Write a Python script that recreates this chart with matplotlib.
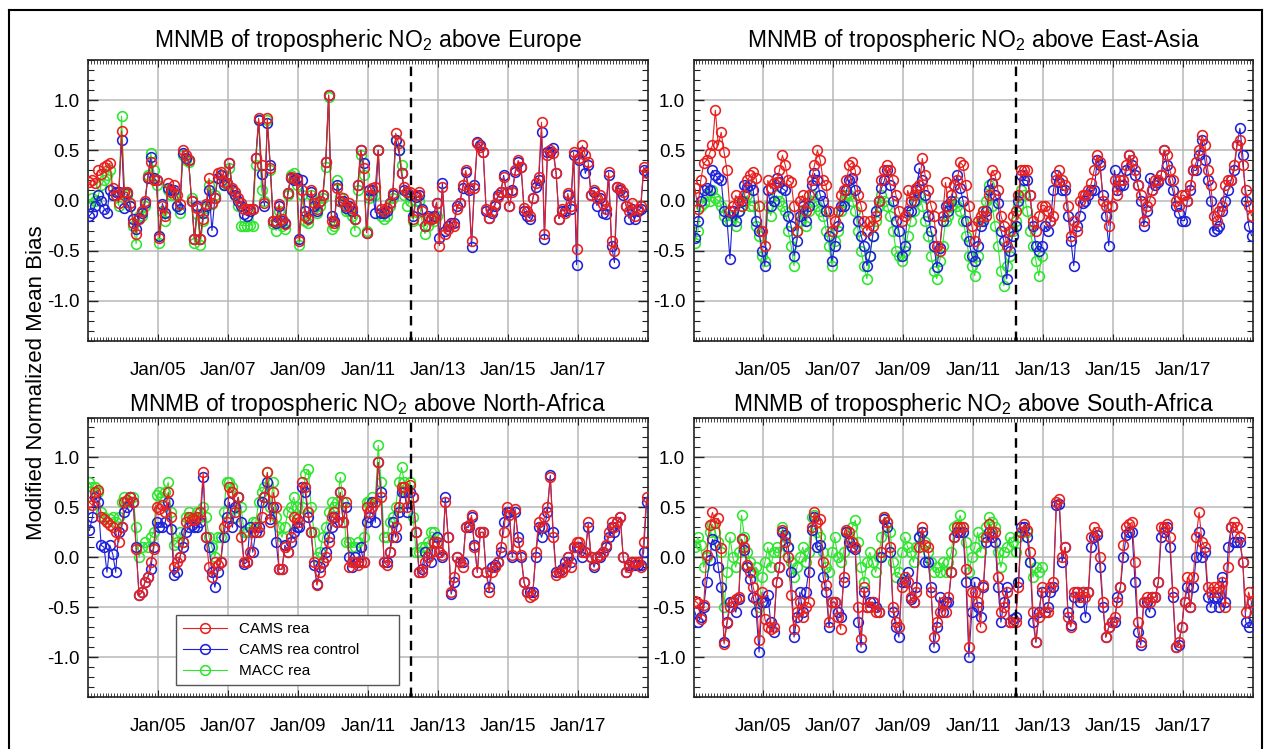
import numpy as np
import matplotlib
matplotlib.use("Agg")
import matplotlib.pyplot as plt
from matplotlib.ticker import MultipleLocator, FixedLocator
from matplotlib.lines import Line2D

plt.rcParams["font.family"] = ["Liberation Sans", "DejaVu Sans"]
plt.rcParams["mathtext.fontset"] = "custom"
plt.rcParams["mathtext.rm"] = "Liberation Sans"
plt.rcParams["mathtext.default"] = "regular"
plt.rcParams["axes.unicode_minus"] = False

# monthly MNMB values, Jan 2003 .. Dec 2018 (MACC rea stops Dec 2012)
START_YEAR = 2003
SWITCH_DATE = 2012.22
TICK_YEARS = [2005, 2007, 2009, 2011, 2013, 2015, 2017]
TICK_LABELS = ["Jan/05", "Jan/07", "Jan/09", "Jan/11", "Jan/13", "Jan/15", "Jan/17"]

EUR_CAMS = [
    0.18, 0.20, 0.17, 0.30, 0.26, 0.33, 0.35, 0.37, 0.12, 0.05, -0.02, 0.69,
    0.08, 0.08, -0.02, -0.22, -0.33, -0.18, -0.10, 0.00, 0.23, 0.38, 0.20, 0.20,
    -0.37, -0.05, -0.15, 0.17, 0.08, 0.15, 0.05, -0.03, 0.50, 0.45, 0.40, 0.00,
    -0.38, -0.07, -0.38, -0.18, -0.03, 0.22, -0.02, 0.02, 0.27, 0.28, 0.18, 0.17,
    0.37, 0.12, 0.08, 0.02, -0.02, -0.08, -0.08, -0.08, -0.08, 0.42, 0.82, 0.35,
    -0.02, 0.82, 0.32, -0.20, -0.20, -0.03, -0.18, -0.23, 0.07, 0.23, 0.22, 0.20,
    -0.40, 0.10, -0.15, -0.18, 0.10, -0.02, -0.08, 0.00, 0.05, 0.38, 1.05, -0.20,
    -0.22, 0.12, 0.00, 0.02, -0.05, -0.02, -0.07, -0.18, 0.15, 0.50, 0.32, -0.32,
    0.05, 0.12, 0.13, 0.50, -0.08, -0.10, -0.07, -0.02, 0.07, 0.67, 0.57, 0.27,
    0.13, 0.08, 0.08, -0.18, 0.05, 0.08, -0.10, -0.25, -0.17, -0.18, -0.17, -0.02,
    -0.45, 0.13, -0.33, -0.28, -0.23, -0.25, -0.08, -0.02, 0.15, 0.30, 0.12, -0.40,
    0.12, 0.57, 0.53, 0.48, -0.08, -0.17, -0.10, -0.03, 0.03, 0.08, 0.23, 0.08,
    -0.05, 0.08, 0.30, 0.40, 0.33, -0.07, -0.10, -0.15, 0.02, 0.17, 0.23, 0.78,
    -0.33, 0.45, 0.50, 0.47, 0.27, -0.18, -0.08, -0.12, 0.07, -0.05, 0.48, -0.48,
    0.42, 0.55, 0.45, 0.38, 0.05, 0.10, 0.02, 0.05, -0.03, -0.08, 0.28, -0.40,
    -0.50, 0.13, 0.12, 0.08, -0.05, -0.10, -0.02, -0.15, -0.08, -0.05, 0.33, 0.27,
]
EUR_CTRL = [
    -0.15, -0.12, -0.05, 0.05, 0.00, -0.08, -0.12, 0.10, 0.05, 0.08, 0.08, 0.60,
    -0.07, 0.07, -0.05, -0.18, -0.28, -0.17, -0.12, -0.02, 0.22, 0.43, 0.22, 0.20,
    -0.35, -0.03, -0.12, 0.12, 0.10, 0.10, -0.05, -0.08, 0.47, 0.42, 0.40, 0.00,
    -0.38, -0.05, -0.38, -0.12, -0.05, 0.10, -0.30, 0.02, 0.22, 0.25, 0.15, 0.17,
    0.37, 0.10, 0.05, 0.00, -0.05, -0.13, -0.15, -0.10, -0.08, 0.42, 0.80, 0.26,
    -0.05, 0.77, 0.35, -0.20, -0.22, -0.05, -0.20, -0.22, 0.07, 0.22, 0.20, 0.22,
    -0.38, 0.20, -0.10, -0.17, 0.08, -0.05, -0.10, 0.00, 0.05, 0.38, 1.05, -0.15,
    -0.20, 0.15, 0.00, 0.00, -0.07, -0.05, -0.10, -0.18, 0.15, 0.50, 0.37, -0.32,
    0.10, 0.10, -0.12, 0.50, -0.12, -0.12, -0.10, -0.02, 0.05, 0.60, 0.50, 0.27,
    0.10, 0.08, 0.05, -0.15, 0.03, 0.05, -0.08, -0.25, -0.15, -0.18, -0.15, -0.02,
    -0.37, 0.17, -0.30, -0.25, -0.22, -0.22, -0.05, -0.02, 0.12, 0.28, 0.10, -0.46,
    0.15, 0.58, 0.55, 0.48, -0.10, -0.17, -0.12, -0.05, 0.05, 0.08, 0.25, 0.08,
    -0.05, 0.10, 0.28, 0.38, 0.33, -0.10, -0.15, -0.18, 0.02, 0.13, 0.20, 0.68,
    -0.38, 0.48, 0.48, 0.52, 0.27, -0.18, -0.10, -0.10, 0.05, -0.08, 0.45, -0.64,
    0.40, 0.48, 0.27, 0.35, 0.05, 0.08, -0.05, 0.02, -0.12, -0.13, 0.25, -0.45,
    -0.62, 0.13, 0.10, 0.05, -0.05, -0.18, -0.08, -0.18, -0.10, -0.08, 0.30, 0.28,
]
EUR_MACC = [
    -0.03, 0.02, 0.00, 0.05, 0.15, 0.20, 0.25, 0.30, 0.05, 0.05, -0.05, 0.84,
    0.07, 0.05, -0.05, -0.25, -0.43, -0.15, -0.15, -0.05, 0.25, 0.47, 0.30, 0.15,
    -0.42, -0.10, -0.20, 0.10, 0.05, 0.05, -0.05, -0.12, 0.45, 0.40, 0.38, 0.02,
    -0.42, -0.13, -0.44, -0.20, -0.07, 0.15, -0.03, 0.05, 0.22, 0.25, 0.15, 0.15,
    0.32, 0.10, 0.05, -0.05, -0.25, -0.25, -0.25, -0.24, -0.25, 0.35, 0.80, 0.10,
    0.00, 0.80, 0.30, -0.23, -0.30, -0.10, -0.25, -0.28, 0.05, 0.25, 0.27, 0.15,
    -0.44, 0.05, -0.20, -0.22, 0.05, -0.07, -0.12, -0.05, 0.02, 0.33, 1.03, -0.28,
    -0.25, 0.20, 0.03, -0.02, -0.10, -0.10, -0.15, -0.30, 0.10, 0.45, 0.25, -0.30,
    0.02, 0.05, 0.05, 0.50, -0.15, -0.18, -0.15, -0.05, 0.02, 0.60, 0.50, 0.35,
    0.05, -0.05, 0.00, -0.20, 0.00, 0.00, -0.20, -0.33, -0.25, -0.18, -0.20, -0.15,
]

EAS_CAMS = [
    0.12, -0.08, 0.20, 0.37, 0.40, 0.47, 0.55, 0.90, 0.55, 0.68, 0.48, 0.30,
    -0.10, -0.05, 0.05, 0.00, -0.05, 0.05, 0.20, 0.25, 0.28, 0.22, -0.05, -0.30,
    -0.45, 0.20, 0.12, 0.17, 0.18, 0.30, 0.45, 0.35, 0.20, 0.18, -0.05, -0.30,
    0.00, 0.05, -0.10, 0.05, 0.20, 0.35, 0.50, 0.40, 0.20, 0.15, -0.10, -0.30,
    -0.20, -0.10, 0.05, 0.10, 0.20, 0.35, 0.38, 0.30, 0.05, -0.05, -0.20, -0.30,
    -0.20, -0.25, -0.15, 0.00, 0.20, 0.30, 0.35, 0.30, 0.20, 0.05, -0.10, -0.20,
    -0.15, 0.10, 0.00, 0.05, 0.12, 0.15, 0.42, 0.25, 0.10, -0.05, -0.15, -0.45,
    -0.50, -0.15, 0.18, -0.05, 0.05, 0.15, 0.20, 0.38, 0.35, 0.15, -0.05, -0.25,
    -0.40, -0.20, -0.15, -0.10, -0.15, 0.05, 0.30, 0.25, 0.10, -0.15, -0.25, -0.45,
    -0.30, -0.15, -0.10, 0.05, 0.30, 0.30, 0.30, 0.05, -0.20, -0.30, -0.15, -0.05,
    -0.05, -0.10, -0.20, -0.15, 0.20, 0.30, 0.20, 0.15, -0.05, -0.35, -0.20, -0.30,
    0.00, 0.05, 0.05, 0.10, 0.17, 0.30, 0.45, 0.38, 0.00, -0.05, -0.25, -0.05,
    0.20, 0.05, 0.20, 0.20, 0.35, 0.45, 0.40, 0.30, 0.15, 0.05, -0.20, -0.05,
    0.00, 0.10, 0.20, 0.20, 0.25, 0.50, 0.45, 0.30, 0.20, 0.00, -0.05, 0.05,
    0.05, 0.00, 0.15, 0.30, 0.38, 0.50, 0.65, 0.55, 0.30, 0.15, -0.15, -0.20,
    -0.10, -0.05, 0.15, 0.20, 0.20, 0.35, 0.55, 0.60, 0.35, 0.10, -0.05, -0.15,
]
EAS_CTRL = [
    -0.37, -0.20, 0.00, 0.10, 0.12, 0.10, 0.30, 0.25, 0.22, 0.20, -0.10, -0.20,
    -0.58, -0.10, -0.20, -0.10, 0.00, 0.15, 0.13, 0.15, 0.10, -0.20, -0.30, -0.50,
    -0.65, 0.10, -0.05, 0.00, 0.22, 0.18, 0.12, 0.10, -0.15, -0.25, -0.55, -0.40,
    -0.15, -0.05, -0.20, -0.05, 0.15, 0.27, 0.20, 0.05, 0.00, -0.10, -0.35, -0.60,
    -0.45, -0.25, -0.05, -0.05, 0.10, 0.20, 0.22, 0.10, -0.20, -0.35, -0.45, -0.65,
    -0.55, -0.35, -0.10, 0.00, 0.12, 0.20, 0.30, 0.15, 0.00, -0.20, -0.30, -0.55,
    -0.45, -0.10, -0.10, 0.00, 0.10, 0.32, 0.20, 0.05, -0.15, -0.30, -0.45, -0.66,
    -0.47, -0.20, -0.05, -0.10, 0.00, 0.15, 0.25, 0.12, 0.00, -0.20, -0.40, -0.55,
    -0.60, -0.45, -0.25, -0.20, -0.10, 0.10, 0.17, 0.05, -0.02, -0.30, -0.40, -0.78,
    -0.50, -0.35, -0.25, 0.00, 0.25, 0.20, 0.20, 0.05, -0.25, -0.45, -0.50, -0.45,
    -0.25, -0.30, -0.20, 0.10, 0.25, 0.18, 0.10, 0.10, -0.15, -0.40, -0.65, -0.25,
    -0.15, -0.02, 0.00, 0.05, 0.10, 0.10, 0.40, 0.35, 0.05, -0.15, -0.45, -0.05,
    0.30, 0.10, 0.15, 0.15, 0.30, 0.45, 0.35, 0.25, 0.15, 0.00, -0.25, -0.10,
    0.22, 0.10, 0.15, 0.18, 0.25, 0.50, 0.35, 0.20, 0.10, -0.05, -0.12, -0.20,
    -0.20, 0.00, 0.10, 0.30, 0.30, 0.45, 0.60, 0.40, 0.20, 0.00, -0.30, -0.28,
    -0.25, -0.10, 0.00, 0.10, 0.20, 0.30, 0.55, 0.72, 0.45, 0.00, -0.25, -0.35,
]
EAS_MACC = [
    -0.42, -0.30, -0.05, -0.02, 0.05, 0.00, 0.10, 0.02, 0.00, -0.05, -0.15, -0.20,
    -0.20, -0.15, -0.25, -0.10, -0.05, 0.00, 0.05, -0.05, -0.05, -0.25, -0.35, -0.55,
    -0.60, -0.05, -0.15, 0.00, 0.05, 0.00, -0.05, -0.10, -0.30, -0.45, -0.65, -0.30,
    -0.20, -0.10, -0.25, -0.10, 0.05, 0.00, -0.05, -0.10, -0.15, -0.30, -0.45, -0.65,
    -0.40, -0.30, -0.10, 0.00, 0.05, 0.05, 0.00, -0.10, -0.30, -0.50, -0.65, -0.78,
    -0.55, -0.35, -0.20, -0.05, 0.05, 0.00, -0.05, -0.15, -0.30, -0.50, -0.55, -0.60,
    -0.50, -0.35, -0.20, -0.10, 0.00, 0.05, -0.05, -0.20, -0.35, -0.55, -0.70, -0.78,
    -0.60, -0.45, -0.20, -0.15, -0.05, 0.00, -0.05, -0.10, -0.20, -0.35, -0.55, -0.65,
    -0.75, -0.55, -0.20, -0.10, 0.00, 0.15, -0.05, -0.25, -0.45, -0.70, -0.85, -0.65,
    -0.55, -0.30, -0.20, -0.05, 0.10, 0.05, -0.10, -0.30, -0.45, -0.60, -0.75, -0.55,
]

NAF_CAMS = [
    0.55, 0.52, 0.65, 0.67, 0.40, 0.38, 0.35, 0.32, 0.30, 0.25, 0.15, 0.30,
    0.55, 0.57, 0.60, 0.55, 0.08, -0.38, -0.35, -0.25, -0.20, -0.05, 0.08, 0.50,
    0.48, 0.52, 0.45, 0.65, 0.40, -0.10, -0.05, 0.00, 0.15, 0.35, 0.40, 0.38,
    0.37, 0.40, 0.45, 0.85, 0.20, -0.10, -0.20, -0.05, -0.08, -0.05, 0.30, 0.35,
    0.70, 0.65, 0.45, 0.60, 0.20, -0.05, -0.05, 0.05, 0.25, 0.30, 0.25, 0.40,
    0.60, 0.85, 0.35, 0.65, 0.50, -0.12, -0.12, 0.10, 0.05, 0.20, 0.40, 0.38,
    0.35, 0.75, 0.70, 0.45, 0.25, -0.05, -0.28, -0.15, -0.05, 0.00, 0.15, 0.40,
    0.45, 0.35, 0.65, 0.35, 0.55, -0.10, -0.05, -0.05, -0.08, -0.05, -0.05, 0.50,
    0.45, 0.50, 0.55, 0.95, 0.60, -0.05, -0.08, 0.05, 0.20, 0.30, 0.50, 0.70,
    0.70, 0.50, 0.72, 0.60, 0.25, -0.15, -0.15, -0.05, 0.00, 0.05, 0.15, 0.15,
    0.05, 0.02, 0.55, 0.20, -0.35, -0.20, 0.00, -0.05, -0.10, 0.30, 0.32, 0.42,
    0.10, -0.15, 0.25, 0.25, -0.15, -0.35, -0.15, -0.10, -0.05, 0.10, 0.25, 0.50,
    0.42, 0.02, 0.48, 0.15, 0.02, -0.25, -0.35, -0.40, -0.38, 0.05, 0.35, 0.30,
    0.40, 0.50, 0.80, 0.20, -0.18, -0.15, -0.15, -0.10, 0.00, -0.10, 0.10, 0.15,
    0.15, 0.05, 0.05, 0.35, 0.00, -0.08, 0.00, 0.02, 0.05, 0.12, 0.25, 0.35,
    0.30, 0.35, 0.40, 0.00, -0.15, -0.10, -0.05, -0.05, -0.05, -0.10, 0.15, 0.60,
]
NAF_CTRL = [
    0.27, 0.40, 0.60, 0.55, 0.12, 0.10, -0.15, 0.12, 0.03, -0.15, 0.25, 0.30,
    0.45, 0.50, 0.60, 0.55, 0.10, -0.38, -0.35, -0.25, -0.20, -0.12, 0.10, 0.35,
    0.30, 0.30, 0.35, 0.55, 0.28, -0.18, -0.15, 0.00, 0.10, 0.25, 0.30, 0.32,
    0.30, 0.30, 0.35, 0.80, 0.20, 0.10, -0.15, -0.30, -0.15, -0.05, 0.20, 0.40,
    0.55, 0.30, 0.50, 0.60, 0.35, -0.07, -0.05, 0.30, 0.05, 0.25, 0.30, 0.55,
    0.60, 0.75, 0.38, 0.50, 0.15, -0.12, -0.12, 0.12, 0.05, 0.15, 0.25, 0.30,
    0.30, 0.70, 0.65, 0.40, 0.25, -0.08, -0.27, -0.10, -0.05, 0.05, 0.20, 0.30,
    0.40, 0.35, 0.65, 0.35, 0.50, 0.00, -0.10, 0.00, -0.05, 0.10, -0.05, 0.35,
    0.40, 0.55, 0.35, 0.95, 0.65, -0.05, -0.05, 0.05, 0.35, 0.20, 0.45, 0.65,
    0.65, 0.45, 0.65, 0.60, 0.25, -0.15, -0.12, 0.05, 0.00, -0.05, 0.15, 0.20,
    0.05, 0.00, 0.60, 0.20, -0.37, -0.25, 0.00, -0.05, -0.05, 0.30, 0.30, 0.40,
    0.12, -0.15, 0.25, 0.25, -0.15, -0.30, -0.10, -0.08, -0.05, 0.05, 0.35, 0.45,
    0.45, 0.00, 0.45, 0.20, 0.00, -0.25, -0.35, -0.35, -0.35, 0.00, 0.30, 0.20,
    0.30, 0.45, 0.82, 0.25, -0.15, -0.15, -0.12, -0.05, 0.00, -0.05, 0.10, 0.10,
    0.10, 0.00, 0.05, 0.30, 0.00, -0.10, 0.00, 0.00, 0.05, 0.10, 0.20, 0.30,
    0.25, 0.35, 0.40, 0.00, -0.15, -0.08, -0.05, -0.08, -0.08, -0.08, 0.05, 0.55,
]
NAF_MACC = [
    0.75, 0.70, 0.70, 0.65, 0.45, 0.40, 0.35, 0.38, 0.40, 0.35, 0.40, 0.55,
    0.60, 0.55, 0.60, 0.60, 0.30, 0.00, 0.10, 0.15, 0.10, 0.20, 0.25, 0.62,
    0.65, 0.60, 0.65, 0.75, 0.45, 0.12, 0.15, 0.25, 0.15, 0.40, 0.45, 0.40,
    0.40, 0.45, 0.40, 0.50, 0.40, 0.20, 0.10, 0.00, 0.20, 0.20, 0.45, 0.75,
    0.75, 0.70, 0.40, 0.60, 0.50, 0.25, 0.25, 0.30, 0.35, 0.35, 0.55, 0.65,
    0.70, 0.85, 0.50, 0.75, 0.40, 0.30, 0.20, 0.30, 0.45, 0.50, 0.60, 0.50,
    0.40, 0.50, 0.83, 0.88, 0.50, 0.25, 0.00, 0.05, 0.20, 0.30, 0.45, 0.55,
    0.50, 0.55, 0.80, 0.55, 0.15, 0.15, 0.10, 0.10, 0.15, 0.10, 0.20, 0.55,
    0.55, 0.60, 0.55, 1.12, 0.75, 0.20, 0.20, 0.35, 0.40, 0.50, 0.75, 0.90,
    0.75, 0.65, 0.75, 0.40, 0.05, 0.05, 0.10, 0.10, 0.15, 0.25, 0.25, 0.15,
]

SAF_CAMS = [
    -0.44, -0.46, -0.62, -0.48, 0.02, 0.32, 0.45, 0.34, 0.39, 0.09, -0.87, -0.66,
    -0.50, -0.45, -0.42, -0.40, 0.18, 0.10, -0.08, -0.15, -0.30, -0.42, -0.83, -0.35,
    -0.62, -0.70, -0.72, -0.70, -0.25, -0.10, 0.27, 0.15, 0.00, -0.38, -0.72, -0.55,
    -0.45, -0.60, -0.50, -0.45, 0.30, 0.45, 0.35, 0.38, -0.05, -0.28, -0.65, -0.45,
    -0.45, -0.60, -0.72, -0.20, 0.27, 0.25, 0.15, 0.10, -0.50, -0.82, -0.30, -0.50,
    -0.50, -0.45, -0.55, -0.55, 0.05, 0.40, 0.35, 0.10, -0.50, -0.65, -0.70, -0.30,
    -0.20, -0.25, -0.40, -0.45, -0.35, 0.10, 0.30, 0.12, 0.10, -0.35, -0.80, -0.65,
    -0.55, -0.45, -0.55, -0.40, -0.15, 0.20, 0.30, 0.30, 0.30, -0.12, -0.90, -0.35,
    -0.35, -0.45, -0.70, -0.28, 0.20, 0.33, 0.25, 0.25, -0.20, -0.55, -0.50, -0.35,
    -0.65, -0.65, -0.65, -0.30, 0.25, 0.33, 0.27, 0.05, -0.55, -0.85, -0.60, -0.30,
    -0.55, -0.55, -0.30, -0.25, 0.55, 0.58, 0.00, 0.10, -0.60, -0.70, -0.35, -0.35,
    -0.40, -0.35, -0.40, -0.35, 0.20, 0.30, 0.25, 0.00, -0.45, -0.80, -0.70, -0.65,
    -0.60, -0.45, -0.30, 0.12, 0.30, 0.33, 0.35, -0.05, -0.65, -0.85, -0.45, -0.40,
    -0.45, -0.40, -0.40, -0.25, 0.30, 0.30, 0.33, 0.20, -0.35, -0.90, -0.85, -0.70,
    -0.45, -0.20, -0.50, -0.20, 0.20, 0.45, 0.15, 0.10, -0.30, -0.35, -0.30, -0.35,
    -0.30, -0.25, -0.50, -0.10, 0.30, 0.35, 0.30, 0.20, -0.05, -0.55, -0.35, -0.45,
]
SAF_CTRL = [
    -0.55, -0.65, -0.60, -0.50, -0.25, -0.03, 0.18, 0.12, -0.10, -0.30, -0.85, -0.65,
    -0.45, -0.45, -0.55, -0.42, 0.18, 0.07, -0.10, -0.22, -0.40, -0.55, -0.95, -0.45,
    -0.45, -0.38, -0.65, -0.75, -0.25, -0.10, 0.25, 0.22, 0.10, -0.15, -0.80, -0.60,
    -0.35, -0.55, -0.35, -0.15, 0.27, 0.40, 0.10, 0.12, -0.20, -0.35, -0.70, -0.45,
    -0.45, -0.55, -0.60, -0.25, 0.25, 0.15, 0.10, 0.08, -0.65, -0.90, -0.35, -0.50,
    -0.45, -0.45, -0.50, -0.55, 0.00, 0.38, 0.30, 0.05, -0.55, -0.70, -0.80, -0.25,
    -0.25, -0.15, -0.42, -0.45, -0.30, 0.20, 0.25, -0.05, -0.05, -0.30, -0.90, -0.70,
    -0.40, -0.55, -0.45, -0.45, -0.15, 0.20, 0.25, 0.25, 0.25, -0.25, -1.00, -0.55,
    -0.25, -0.50, -0.60, -0.30, 0.15, 0.25, 0.20, 0.15, -0.30, -0.65, -0.45, -0.30,
    -0.65, -0.62, -0.60, -0.25, 0.30, 0.30, 0.20, -0.05, -0.65, -0.85, -0.55, -0.35,
    -0.55, -0.50, -0.35, -0.30, 0.52, 0.53, -0.05, 0.10, -0.55, -0.68, -0.40, -0.35,
    -0.45, -0.35, -0.60, -0.35, 0.10, 0.20, 0.22, -0.10, -0.50, -0.80, -0.70, -0.65,
    -0.65, -0.40, -0.30, 0.00, 0.22, 0.25, 0.25, -0.25, -0.75, -0.88, -0.45, -0.45,
    -0.55, -0.40, -0.40, -0.25, 0.20, 0.25, 0.30, 0.10, -0.40, -0.90, -0.88, -0.70,
    -0.45, -0.30, -0.50, -0.30, 0.00, 0.25, 0.00, 0.05, -0.40, -0.50, -0.40, -0.40,
    -0.50, -0.20, -0.45, 0.10, 0.30, 0.15, 0.15, 0.15, -0.05, -0.65, -0.70, -0.45,
]
SAF_MACC = [
    0.10, 0.20, 0.12, -0.10, 0.00, 0.25, 0.33, 0.25, 0.15, 0.05, -0.50, -0.15,
    0.20, 0.00, -0.10, 0.05, 0.42, 0.20, 0.05, -0.05, -0.15, -0.10, -0.50, -0.20,
    -0.05, 0.10, -0.10, 0.05, 0.10, 0.05, 0.30, 0.20, 0.10, -0.05, -0.20, -0.10,
    0.00, 0.10, -0.05, 0.05, 0.40, 0.42, 0.25, 0.20, 0.05, -0.10, -0.15, 0.05,
    0.20, 0.00, -0.05, 0.05, 0.25, 0.20, 0.30, 0.37, 0.15, -0.10, -0.25, -0.05,
    0.05, -0.05, -0.15, 0.00, 0.20, 0.40, 0.35, 0.25, -0.05, -0.20, -0.15, 0.05,
    0.20, 0.10, 0.05, -0.05, 0.10, 0.20, 0.25, 0.15, 0.05, -0.05, -0.15, -0.10,
    -0.15, -0.05, -0.15, -0.05, 0.05, 0.30, 0.32, 0.42, 0.30, 0.15, -0.15, 0.00,
    0.10, 0.25, 0.05, 0.20, 0.30, 0.40, 0.35, 0.30, 0.05, -0.10, 0.05, 0.10,
    0.20, 0.15, 0.05, 0.20, 0.25, 0.30, 0.25, -0.05, -0.20, -0.10, -0.15, -0.10,
]

SERIES = [("CAMS rea", "#e8201e", 4), ("CAMS rea control", "#1f22d8", 3),
          ("MACC rea", "#2ee62e", 2)]
PANELS = [
    ("Europe", EUR_CAMS, EUR_CTRL, EUR_MACC),
    ("East-Asia", EAS_CAMS, EAS_CTRL, EAS_MACC),
    ("North-Africa", NAF_CAMS, NAF_CTRL, NAF_MACC),
    ("South-Africa", SAF_CAMS, SAF_CTRL, SAF_MACC),
]

W, H = 1271, 749
fig = plt.figure(figsize=(W / 100, H / 100), dpi=100)

# axes boxes in pixels: left, top, right, bottom
BOXES = [(88, 60, 648, 341), (693.5, 60, 1253, 341),
         (88, 417.5, 648, 697), (693.5, 417.5, 1253, 697)]
TITLE_PAD = [9, 9, 4, 4]


def month_axis(n):
    return START_YEAR + (np.arange(n) + 0.5) / 12.0


for k, (region, cams, ctrl, macc) in enumerate(PANELS):
    l, t, r, b = BOXES[k]
    ax = fig.add_axes([l / W, 1 - b / H, (r - l) / W, (b - t) / H])

    for (label, color, z), vals in zip(SERIES, (cams, ctrl, macc)):
        ax.plot(month_axis(len(vals)), vals, color=color, lw=0.8, marker="o",
                ms=7, mfc="none", mec=color, mew=1.15, zorder=z, label=label)

    ax.axvline(SWITCH_DATE, color="black", lw=1.7, ls=(0, (4, 2.6)), zorder=6)

    ax.set_xlim(2003, 2019)
    ax.set_ylim(-1.4, 1.4)
    ax.xaxis.set_major_locator(FixedLocator(TICK_YEARS))
    ax.set_xticklabels(TICK_LABELS)
    ax.xaxis.set_minor_locator(MultipleLocator(1 / 12))
    ax.yaxis.set_major_locator(MultipleLocator(0.5))
    ax.yaxis.set_minor_locator(MultipleLocator(0.1))
    ax.yaxis.set_major_formatter(plt.FormatStrFormatter("%.1f"))

    ax.grid(True, which="major", color="#b8b8b8", lw=1.1)
    ax.set_axisbelow(True)
    ax.tick_params(which="both", direction="in", top=True, right=True,
                   labelsize=13.5, color="#222222")
    ax.tick_params(axis="x", which="major", length=5, pad=15)
    ax.tick_params(axis="x", which="minor", length=3, width=0.6)
    ax.tick_params(axis="y", which="major", length=7, width=1.0, pad=6)
    ax.tick_params(axis="y", which="minor", length=4, width=0.8)
    for sp in ax.spines.values():
        sp.set_linewidth(1.2)
        sp.set_color("#222222")

    ax.set_title(f"MNMB of tropospheric NO$_2$ above {region}", fontsize=16.5,
                 pad=TITLE_PAD[k])

    if region == "North-Africa":
        ax.legend(loc="lower left", bbox_to_anchor=(0.157, 0.043, 0.398, 0.24),
                  mode="expand", borderaxespad=0, fontsize=11,
                  handlelength=2.9, handletextpad=0.8, labelspacing=0.45,
                  borderpad=0.45, fancybox=False, edgecolor="#555555",
                  framealpha=1.0, numpoints=1)

fig.text(0.029, 0.489, "Modified Normalized Mean Bias", rotation=90,
         ha="center", va="center", fontsize=16)

# thin frame around the whole figure
frame = dict(transform=fig.transFigure, color="black", lw=1.5)
fig.add_artist(Line2D([9 / W, 9 / W], [0, 1 - 9.5 / H], **frame))
fig.add_artist(Line2D([1262 / W, 1262 / W], [0, 1 - 9.5 / H], **frame))
fig.add_artist(Line2D([9 / W, 1262 / W], [1 - 9.5 / H, 1 - 9.5 / H], **frame))

fig.savefig("out.png", dpi=100)
